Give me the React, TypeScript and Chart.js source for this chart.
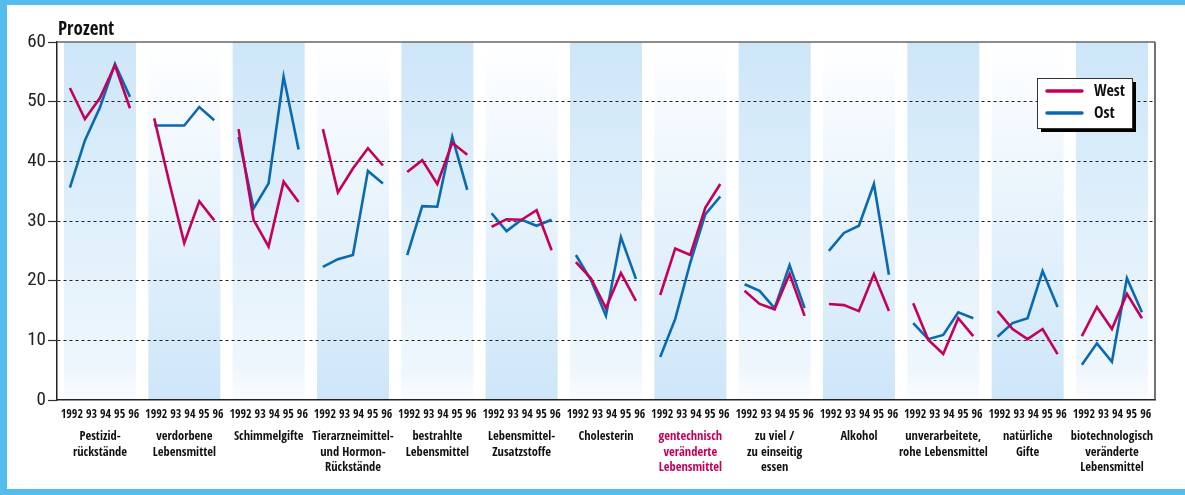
import { useEffect, useRef } from "react";
import { Chart, registerables } from "chart.js";

Chart.register(...registerables);

// ---------- data ----------
const CATEGORIES: string[][] = [
  ["Pestizid-", "rückstände"],
  ["verdorbene", "Lebensmittel"],
  ["Schimmelgifte"],
  ["Tierarzneimittel-", "und Hormon-", "Rückstände"],
  ["bestrahlte", "Lebensmittel"],
  ["Lebensmittel-", "Zusatzstoffe"],
  ["Cholesterin"],
  ["gentechnisch", "veränderte", "Lebensmittel"],
  ["zu viel /", "zu einseitig", "essen"],
  ["Alkohol"],
  ["unverarbeitete,", "rohe Lebensmittel"],
  ["natürliche", "Gifte"],
  ["biotechnologisch", "veränderte", "Lebensmittel"],
];
const HIGHLIGHTED = "gentechnisch";
const YEARS = ["1992", "93", "94", "95", "96"];
const Y_TICKS = [0, 10, 20, 30, 40, 50, 60];
const Y_TITLE = "Prozent";
const SERIES_NAMES = ["West", "Ost"];

const WEST: number[][] = [
  [52.3, 47.1, 50.6, 56.1, 48.9],
  [47.2, 36.5, 26.3, 33.3, 30.1],
  [45.4, 30.2, 25.7, 36.6, 33.2],
  [45.4, 34.8, 38.8, 42.2, 39.3],
  [38.2, 40.2, 36.2, 43.1, 41.1],
  [29.0, 30.3, 30.2, 31.8, 25.1],
  [23.1, 20.4, 15.4, 21.3, 16.6],
  [17.6, 25.4, 24.3, 32.2, 36.2],
  [18.3, 16.1, 15.2, 21.1, 14.1],
  [16.1, 15.9, 14.9, 21.1, 14.9],
  [16.2, 10.1, 7.7, 13.7, 10.7],
  [14.9, 11.9, 10.2, 11.9, 7.7],
  [10.7, 15.6, 11.9, 17.8, 13.7],
];
const OST: number[][] = [
  [35.6, 43.5, 49.0, 56.3, 50.8],
  [46.0, 46.0, 46.0, 49.1, 46.9],
  [44.1, 32.1, 36.3, 54.2, 42.0],
  [22.3, 23.6, 24.3, 38.4, 36.3],
  [24.3, 32.5, 32.4, 44.1, 35.2],
  [31.3, 28.3, 30.2, 29.2, 30.2],
  [24.3, 20.1, 14.1, 27.3, 20.3],
  [7.2, 13.6, 23.0, 31.1, 34.1],
  [19.4, 18.3, 15.4, 22.6, 15.4],
  [25.0, 28.0, 29.2, 36.2, 21.0],
  [12.9, 10.2, 10.9, 14.7, 13.7],
  [10.6, 12.9, 13.7, 21.6, 15.6],
  [5.9, 9.5, 6.4, 20.4, 14.7],
];

// ---------- style / layout ----------
const W = 1185;
const H = 495;
const BOLD_FONT = "'Open Sans Condensed', 'Roboto Condensed', sans-serif";
const TICK_FONT = "'Roboto Condensed', 'Open Sans Condensed', sans-serif";
const RED = "#c4005a";
const BLUE = "#0b69b0";
const FRAME = "#55bdee";
const BAND_W = 0.854;
const PT_OFF = 0.07;
const PT_STEP = 0.178;
const X_MIN = -0.083;
const X_MAX = 12.937;

const xPos = (i: number, j: number) => i + PT_OFF + j * PT_STEP;

const buildSeries = (vals: number[][]) => {
  const pts: { x: number; y: number | null }[] = [];
  vals.forEach((row, i) => {
    row.forEach((v, j) => pts.push({ x: xPos(i, j), y: v }));
    pts.push({ x: i + BAND_W + 0.05, y: null });
  });
  return pts;
};

const decorPlugin = {
  id: "decor",
  beforeDraw(chart: any) {
    const { ctx, chartArea } = chart;
    const xs = chart.scales.x;
    ctx.save();
    ctx.fillStyle = "#ffffff";
    ctx.fillRect(0, 0, W, H);
    ctx.fillStyle = FRAME;
    ctx.fillRect(0, 0, W, 5);
    ctx.fillRect(0, 0, 7, H);
    ctx.fillRect(0, 489, W, H - 489);
    CATEGORIES.forEach((_, i) => {
      const x1 = xs.getPixelForValue(i);
      const x2 = xs.getPixelForValue(i + BAND_W);
      const g = ctx.createLinearGradient(0, chartArea.top, 0, chartArea.bottom);
      if (i % 2 === 0) {
        g.addColorStop(0, "#cde6f8");
        g.addColorStop(0.92, "#eff7fd");
        g.addColorStop(1, "#fbfdff");
      } else {
        g.addColorStop(0, "#ffffff");
        g.addColorStop(0.08, "#fbfdff");
        g.addColorStop(1, "#cde6f8");
      }
      ctx.fillStyle = g;
      ctx.fillRect(x1, chartArea.top, x2 - x1, chartArea.bottom - chartArea.top);
    });
    ctx.restore();
  },
  afterDraw(chart: any) {
    const { ctx, chartArea } = chart;
    ctx.save();
    // top & right frame of plot
    ctx.strokeStyle = "#666";
    ctx.lineWidth = 1.5;
    ctx.beginPath();
    ctx.moveTo(chartArea.left, chartArea.top);
    ctx.lineTo(chartArea.right, chartArea.top);
    ctx.stroke();
    ctx.strokeStyle = "#444";
    ctx.beginPath();
    ctx.moveTo(chartArea.right, chartArea.top);
    ctx.lineTo(chartArea.right, chartArea.bottom);
    ctx.stroke();
    // axis title
    ctx.fillStyle = "#111";
    ctx.font = `bold 19px ${BOLD_FONT}`;
    ctx.textAlign = "left";
    ctx.textBaseline = "alphabetic";
    ctx.fillText(Y_TITLE, chartArea.left + 1, chartArea.top - 7);
    // legend
    const bx = chartArea.right - 118;
    const by = chartArea.top + 36;
    const bw = 95;
    const bh = 50;
    ctx.fillStyle = "#000";
    ctx.fillRect(bx + 4, by + 4, bw, bh);
    ctx.fillStyle = "#fff";
    ctx.fillRect(bx, by, bw, bh);
    ctx.strokeStyle = "#333";
    ctx.lineWidth = 1;
    ctx.strokeRect(bx + 0.5, by + 0.5, bw, bh);
    chart.data.datasets.forEach((ds: any, k: number) => {
      const y = by + 13 + k * 22;
      ctx.strokeStyle = ds.borderColor;
      ctx.lineWidth = 3.5;
      ctx.lineCap = "round";
      ctx.beginPath();
      ctx.moveTo(bx + 10, y);
      ctx.lineTo(bx + 45, y);
      ctx.stroke();
      ctx.fillStyle = "#111";
      ctx.font = `bold 16px ${BOLD_FONT}`;
      ctx.textBaseline = "middle";
      ctx.fillText(ds.label, bx + 57, y + 1);
    });
    ctx.restore();
  },
};

export default function App() {
  const ref = useRef<HTMLCanvasElement>(null);

  useEffect(() => {
    const canvas = ref.current;
    if (!canvas) return;
    const chart = new Chart(canvas, {
      type: "line",
      data: {
        datasets: [
          {
            label: SERIES_NAMES[0],
            data: buildSeries(WEST) as any,
            borderColor: RED,
            backgroundColor: RED,
            borderWidth: 2.6,
            pointRadius: 0,
            tension: 0,
            borderJoinStyle: "miter",
            xAxisID: "x",
            yAxisID: "y",
          },
          {
            label: SERIES_NAMES[1],
            data: buildSeries(OST) as any,
            borderColor: BLUE,
            backgroundColor: BLUE,
            borderWidth: 2.6,
            pointRadius: 0,
            tension: 0,
            borderJoinStyle: "miter",
            xAxisID: "x",
            yAxisID: "y",
          },
        ],
      },
      options: {
        responsive: false,
        animation: false,
        spanGaps: false,
        layout: { padding: { left: 7, top: 42, right: 30, bottom: 6 } },
        plugins: {
          legend: { display: false },
          tooltip: { enabled: false },
          title: { display: false },
        },
        scales: {
          x: {
            type: "linear",
            axis: "x",
            position: "bottom",
            weight: 0,
            min: X_MIN,
            max: X_MAX,
            afterBuildTicks: (s: any) => {
              s.ticks = CATEGORIES.map((_, i) => ({ value: i + BAND_W / 2 }));
            },
            afterFit: (s: any) => {
              s.height = 24;
            },
            grid: { display: false, drawTicks: false },
            border: { display: true, color: "#222", width: 1.5 },
            ticks: {
              autoSkip: false,
              maxRotation: 0,
              minRotation: 0,
              padding: 7,
              color: "#111",
              font: { family: BOLD_FONT, size: 12, weight: "bold", lineHeight: 1.3 },
              callback: () => YEARS.join(" "),
            },
          } as any,
          x2: {
            type: "linear",
            axis: "x",
            position: "bottom",
            weight: 1,
            min: X_MIN,
            max: X_MAX,
            afterBuildTicks: (s: any) => {
              s.ticks = CATEGORIES.map((_, i) => ({ value: i + BAND_W / 2 }));
            },
            afterFit: (s: any) => {
              s.height = 65;
            },
            grid: { display: false, drawTicks: false },
            border: { display: false },
            ticks: {
              autoSkip: false,
              maxRotation: 0,
              minRotation: 0,
              padding: 5,
              color: (c: any) => (CATEGORIES[c.index] && CATEGORIES[c.index][0] === HIGHLIGHTED ? RED : "#111"),
              font: { family: BOLD_FONT, size: 12.5, weight: "bold", lineHeight: 1.25 },
              callback: (_v: any, idx: number) => CATEGORIES[idx],
            },
          } as any,
          y: {
            type: "linear",
            position: "left",
            min: 0,
            max: 60,
            afterBuildTicks: (s: any) => {
              s.ticks = Y_TICKS.map((v) => ({ value: v }));
            },
            afterFit: (s: any) => {
              s.width = 50;
            },
            grid: {
              color: (c: any) =>
                c.tick && (c.tick.value === 0 || c.tick.value === 60) ? "rgba(0,0,0,0)" : "#222",
              lineWidth: 1,
              tickLength: 9,
              tickColor: "#333",
              tickWidth: 1.2,
            },
            border: { display: true, color: "#222", width: 1.5, dash: [3, 3] },
            ticks: {
              color: "#222",
              padding: 2,
              font: { family: TICK_FONT, size: 19 },
            },
          } as any,
        },
      },
      plugins: [decorPlugin],
    });
    return () => chart.destroy();
  }, []);

  return (
    <div style={{ position: "fixed", left: 0, top: 0, width: W, height: H }}>
      <canvas ref={ref} width={W} height={H} style={{ width: W, height: H, display: "block" }} />
    </div>
  );
}
